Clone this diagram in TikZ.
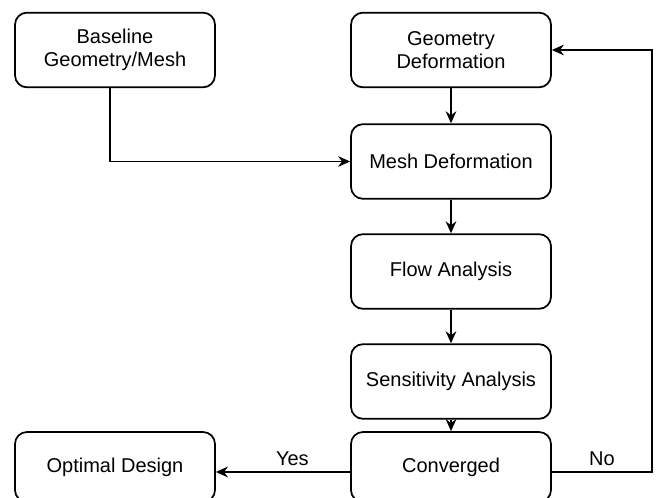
\documentclass[tikz,border=0pt]{standalone}
\usepackage{fontspec}
\setmainfont{Liberation Sans}
\usetikzlibrary{arrows.meta}

\tikzset{
  box/.style={draw, line width=1.3pt, rounded corners=9pt, minimum width=150pt,
    minimum height=56pt, align=center, font=\fontsize{15}{17}\selectfont},
  arr/.style={line width=1.3pt, -{Stealth[length=9pt,width=8pt]}},
  lbl/.style={font=\fontsize{15}{17}\selectfont}
}

\begin{document}
\begin{tikzpicture}[x=0.75pt, y=-0.75pt]
  \useasboundingbox (0,0) rectangle (657,498);
  % boxes
  \node[box] (base) at (115,50) {Baseline\\Geometry/Mesh};
  \node[box] (geom) at (451,50) {Geometry\\Deformation};
  \node[box] (mesh) at (451,161.5) {Mesh Deformation};
  \node[box] (flow) at (451,271.5) {Flow Analysis};
  \node[box] (sens) at (451,381.5) {Sensitivity Analysis};
  \node[box, minimum height=52.5pt] (conv) at (451,467) {Converged};
  \node[box, minimum height=52.5pt] (opt) at (115,467) {Optimal Design};
  \coordinate (loop) at (652,472);
  % connectors
  \draw[arr] ([xshift=-4pt]base.south) |- (mesh.west);
  \draw[arr] (geom) -- (mesh);
  \draw[arr] (mesh) -- (flow);
  \draw[arr] (flow) -- (sens);
  \draw[arr] (sens) -- (conv);
  \draw[arr] ([yshift=-3.75pt]conv.west) -- node[lbl, above=1pt, pos=0.43] {Yes} ([yshift=-3.75pt]opt.east);
  \draw[arr] ([yshift=-3.75pt]conv.east) -- node[lbl, above=1pt] {No} (loop) |- (geom.east);
\end{tikzpicture}
\end{document}
